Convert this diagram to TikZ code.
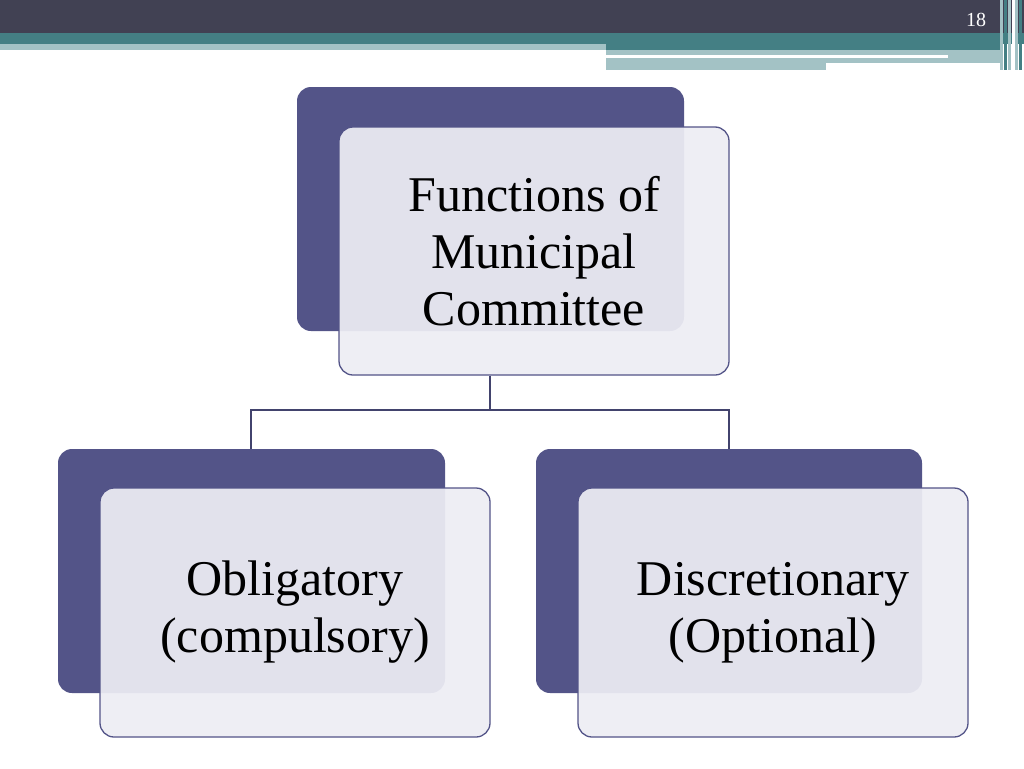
\documentclass[tikz,border=0pt]{standalone}
\usepackage{fontspec}
\setmainfont{Liberation Serif}
\definecolor{hdark}{HTML}{414153}
\definecolor{hteal}{HTML}{447F84}
\definecolor{hlight}{HTML}{A3C2C5}
\definecolor{bdark}{HTML}{535488}
\definecolor{blight}{HTML}{EDEDF4}
\tikzset{
 back/.style={fill=bdark,rounded corners=14pt},
 front/.style={draw=bdark,line width=1.3pt,fill=blight,fill opacity=0.93,text opacity=1,rounded corners=14pt,align=center,font=\fontsize{50}{57}\selectfont},
 conn/.style={draw=bdark!80!black,line width=1.3pt}
}
\begin{document}
\begin{tikzpicture}[x=1pt,y=-1pt]
\useasboundingbox (0,0) rectangle (1024,768);
\fill[white] (0,0) rectangle (1024,768);
\fill[hdark] (0,0) rectangle (1024,33);
\fill[hteal] (0,33) rectangle (1024,44);
\fill[hlight] (0,44) rectangle (606,50);
\fill[hteal] (606,44) rectangle (1000,50);
\fill[hlight] (606,50) rectangle (1000,63);
\fill[white] (606,55) rectangle (948,58);
\fill[hlight] (606,63) rectangle (826,70);
\foreach \x/\c in {1000/hlight,1004/hteal,1008/hlight,1012/white,1015/hlight,1019/hteal}{\fill[\c] (\x,0) rectangle ++(3,70);}
\node[white,font=\fontsize{20}{20}\selectfont] (num) at (976,20) {18};
% boxes
\fill[back] (297,87) rectangle (684,331);
\node[front,minimum width=390pt,minimum height=248pt] (top) at (534,251) {Functions of\\Municipal\\Committee};
\fill[back] (58,449) rectangle (445,693);
\node[front,minimum width=390pt,minimum height=249pt] (left) at (295,612.5) {Obligatory\\(compulsory)};
\fill[back] (536,449) rectangle (922,693);
\node[front,minimum width=390pt,minimum height=249pt] (right) at (773,612.5) {Discretionary\\(Optional)};
\coordinate (j) at (490,410);
\coordinate (l) at (251,449);
\coordinate (r) at (729,449);
\draw[conn] (top.south -| j) -- (j);
\draw[conn] (l) |- (j) -| (r);
\end{tikzpicture}
\end{document}
